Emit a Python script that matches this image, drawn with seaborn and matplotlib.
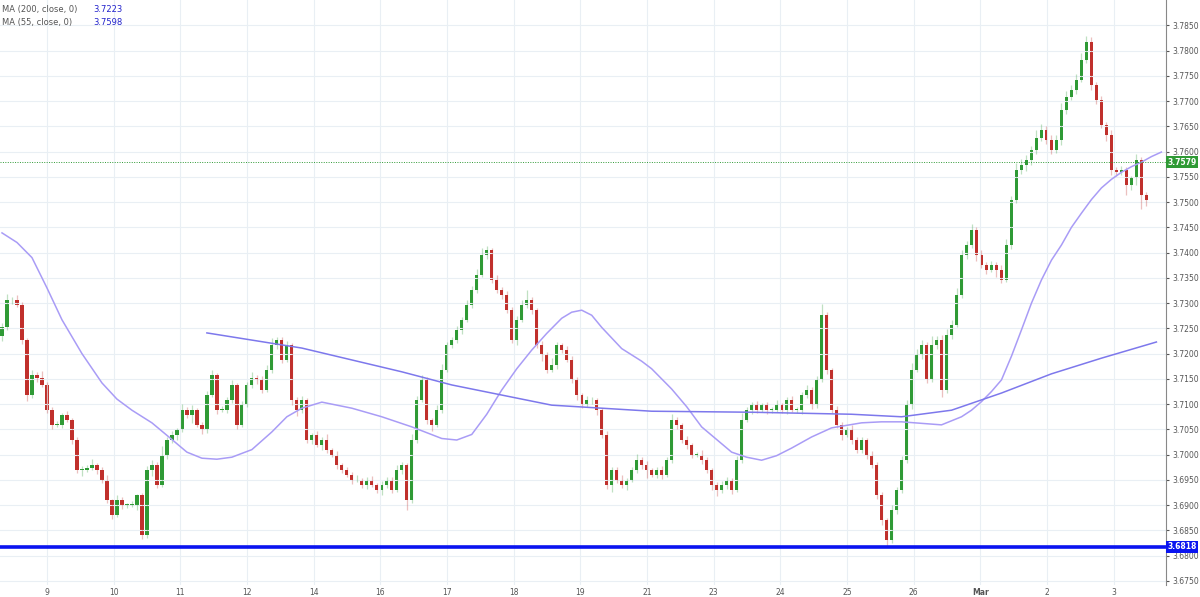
import numpy as np
import pandas as pd
import matplotlib
matplotlib.use("Agg")
import matplotlib.pyplot as plt
import seaborn as sns

# closing prices per bar
closes = [
    3.7253, 3.7306, 3.7306, 3.7297, 3.7227, 3.7118, 3.7158, 3.7152, 3.7138, 3.7089,
    3.7059, 3.7059, 3.7079, 3.7069, 3.7029, 3.6970, 3.6970, 3.6974, 3.6980, 3.6970,
    3.6950, 3.6910, 3.6881, 3.6910, 3.6901, 3.6901, 3.6901, 3.6920, 3.6841, 3.6970,
    3.6980, 3.6940, 3.7000, 3.7029, 3.7039, 3.7049, 3.7089, 3.7079, 3.7089, 3.7059,
    3.7049, 3.7118, 3.7158, 3.7089, 3.7089, 3.7108, 3.7138, 3.7059, 3.7099, 3.7138,
    3.7152, 3.7148, 3.7128, 3.7168, 3.7217, 3.7227, 3.7188, 3.7217, 3.7108, 3.7089,
    3.7108, 3.7029, 3.7039, 3.7019, 3.7029, 3.7009, 3.7000, 3.6980, 3.6970, 3.6960,
    3.6950, 3.6950, 3.6940, 3.6950, 3.6940, 3.6930, 3.6940, 3.6950, 3.6930, 3.6970,
    3.6980, 3.6910, 3.7029, 3.7108, 3.7148, 3.7069, 3.7059, 3.7089, 3.7168, 3.7217,
    3.7227, 3.7247, 3.7267, 3.7297, 3.7326, 3.7356, 3.7396, 3.7405, 3.7346, 3.7326,
    3.7316, 3.7287, 3.7227, 3.7267, 3.7297, 3.7306, 3.7287, 3.7217, 3.7198, 3.7168,
    3.7178, 3.7217, 3.7207, 3.7188, 3.7148, 3.7118, 3.7099, 3.7108, 3.7108, 3.7089,
    3.7039, 3.6940, 3.6970, 3.6950, 3.6940, 3.6950, 3.6970, 3.6990, 3.6980, 3.6970,
    3.6960, 3.6970, 3.6960, 3.6990, 3.7069, 3.7059, 3.7029, 3.7019, 3.7000, 3.7000,
    3.6990, 3.6970, 3.6940, 3.6930, 3.6940, 3.6950, 3.6930, 3.6990, 3.7069, 3.7089,
    3.7099, 3.7089, 3.7099, 3.7089, 3.7089, 3.7099, 3.7089, 3.7108, 3.7089, 3.7089,
    3.7118, 3.7128, 3.7099, 3.7148, 3.7277, 3.7168, 3.7089, 3.7059, 3.7039, 3.7049,
    3.7029, 3.7009, 3.7029, 3.7000, 3.6980, 3.6920, 3.6871, 3.6831, 3.6891, 3.6930,
    3.6990, 3.7099, 3.7168, 3.7198, 3.7217, 3.7148, 3.7217, 3.7227, 3.7128, 3.7237,
    3.7257, 3.7316, 3.7396, 3.7415, 3.7445, 3.7396, 3.7376, 3.7366, 3.7376, 3.7366,
    3.7346, 3.7415, 3.7504, 3.7564, 3.7574, 3.7584, 3.7603, 3.7627, 3.7643, 3.7623,
    3.7603, 3.7623, 3.7683, 3.7708, 3.7722, 3.7742, 3.7782, 3.7817, 3.7732, 3.7702,
    3.7653, 3.7633, 3.7564, 3.7560, 3.7564, 3.7534, 3.7548, 3.7584, 3.7514, 3.7504,
]
first_open = 3.7235

# wick lengths in pips above the body top / below the body bottom
wick_up = [
    8, 12, 6, 10, 5, 4, 9, 6, 14, 5,
    6, 8, 4, 7, 3, 6, 8, 5, 12, 4,
    5, 9, 3, 10, 6, 4, 8, 3, 5, 7,
    10, 6, 18, 5, 8, 4, 12, 6, 9, 4,
    5, 8, 10, 4, 7, 6, 9, 3, 8, 6,
    12, 5, 7, 9, 14, 6, 5, 8, 4, 6,
    9, 5, 4, 7, 6, 12, 5, 8, 4, 6,
    5, 9, 4, 6, 8, 3, 7, 5, 6, 9,
    6, 4, 12, 8, 10, 5, 4, 9, 12, 7,
    5, 8, 6, 10, 7, 12, 14, 8, 5, 9,
    6, 8, 5, 7, 9, 20, 6, 4, 8, 5,
    14, 6, 5, 8, 7, 5, 4, 9, 6, 5,
    4, 8, 6, 5, 9, 4, 6, 12, 5, 7,
    4, 6, 8, 5, 12, 6, 4, 8, 5, 6,
    9, 5, 4, 6, 8, 5, 4, 7, 14, 6,
    5, 8, 4, 6, 5, 9, 4, 6, 8, 5,
    6, 9, 5, 8, 22, 6, 4, 8, 5, 6,
    9, 5, 6, 4, 7, 5, 6, 4, 9, 6,
    8, 10, 14, 12, 9, 6, 18, 8, 10, 12,
    9, 14, 10, 8, 12, 6, 9, 5, 8, 6,
    10, 12, 8, 14, 12, 10, 8, 16, 12, 8,
    10, 9, 14, 12, 10, 12, 14, 12, 9, 6,
    8, 5, 9, 6, 8, 5, 4, 12, 6, 5,
]
wick_dn = [
    10, 6, 8, 5, 7, 12, 5, 8, 4, 6,
    9, 5, 7, 4, 8, 6, 12, 5, 4, 8,
    6, 5, 9, 4, 8, 6, 5, 10, 8, 5,
    12, 6, 4, 8, 5, 9, 4, 6, 16, 5,
    8, 6, 4, 9, 5, 7, 6, 8, 4, 5,
    6, 9, 5, 4, 7, 8, 6, 5, 9, 12,
    6, 5, 8, 4, 9, 6, 5, 8, 6, 4,
    9, 5, 6, 8, 4, 6, 9, 5, 6, 4,
    8, 20, 5, 6, 4, 8, 12, 5, 6, 4,
    6, 5, 8, 4, 6, 5, 4, 8, 6, 5,
    8, 6, 5, 9, 4, 6, 8, 5, 12, 6,
    5, 8, 6, 4, 7, 9, 6, 5, 8, 10,
    6, 8, 14, 6, 5, 9, 4, 6, 8, 16,
    5, 6, 8, 4, 6, 9, 5, 8, 6, 5,
    8, 6, 9, 12, 5, 7, 8, 4, 6, 5,
    9, 6, 5, 8, 6, 4, 7, 9, 5, 6,
    8, 5, 9, 6, 5, 8, 7, 6, 9, 5,
    8, 6, 5, 9, 6, 8, 10, 12, 6, 8,
    5, 6, 8, 5, 9, 6, 5, 8, 14, 6,
    8, 5, 6, 9, 5, 12, 6, 8, 5, 14,
    6, 5, 8, 6, 9, 12, 10, 8, 6, 9,
    8, 6, 10, 9, 6, 8, 5, 6, 10, 8,
    6, 12, 10, 8, 6, 20, 10, 14, 28, 12,
]

# moving averages sampled along the chart (bar index, price)
ma55_bar = [0, 3, 6, 9, 12, 16, 20, 23, 26, 30, 34, 37, 40, 43, 46, 50, 54, 57, 60, 64,
            70, 76, 82, 88, 91, 94, 97, 100, 103, 106, 109, 112, 114, 116, 118, 120, 124,
            128, 130, 132, 134, 137, 140, 143, 146, 149, 152, 155, 158, 162, 166, 172, 176,
            180, 184, 188, 192, 194, 196, 198, 200, 202, 204, 206, 208, 210, 212, 214, 216,
            218, 220, 222, 224, 226, 228, 230, 232]
ma55_val = [3.7439, 3.7420, 3.7390, 3.7330, 3.7267, 3.7200, 3.7142, 3.7110, 3.7088, 3.7063,
            3.7030, 3.7005, 3.6993, 3.6991, 3.6995, 3.7010, 3.7045, 3.7075, 3.7092, 3.7104,
            3.7092, 3.7075, 3.7055, 3.7032, 3.7029, 3.7040, 3.7080, 3.7128, 3.7170, 3.7207,
            3.7240, 3.7270, 3.7282, 3.7286, 3.7276, 3.7252, 3.7210, 3.7185, 3.7170, 3.7150,
            3.7130, 3.7095, 3.7055, 3.7030, 3.7005, 3.6995, 3.6989, 3.6998, 3.7013, 3.7035,
            3.7053, 3.7063, 3.7065, 3.7065, 3.7062, 3.7059, 3.7075, 3.7088, 3.7105, 3.7125,
            3.7148, 3.7195, 3.7247, 3.7300, 3.7346, 3.7385, 3.7415, 3.7450, 3.7478, 3.7505,
            3.7528, 3.7545, 3.7559, 3.7570, 3.7579, 3.7590, 3.7599]
ma200_bar = [41, 60, 80, 90, 110, 130, 150, 170, 180, 190, 200, 210, 220, 231]
ma200_val = [3.7241, 3.7211, 3.7164, 3.7138, 3.7098, 3.7086, 3.7084, 3.7080, 3.7075, 3.7088,
             3.7122, 3.7160, 3.7191, 3.7223]

day_labels = ["9", "10", "11", "12", "14", "16", "17", "18", "19", "21", "23", "24", "25", "26",
              "Mar", "2", "3"]
support_level = 3.6818
last_price = 3.7579

opens = [first_open] + closes[:-1]
df = pd.DataFrame({"open": opens, "close": closes})
df["bar"] = np.arange(len(df))
df["top"] = df[["open", "close"]].max(axis=1)
df["bot"] = df[["open", "close"]].min(axis=1)
df["high"] = df["top"] + np.array(wick_up) * 1e-4
df["low"] = df["bot"] - np.array(wick_dn) * 1e-4
up = df["close"] >= df["open"]

green, red = "#2f9a35", "#c0302c"
fig = plt.figure(figsize=(12, 5.97), dpi=100)
ax = fig.add_axes([0.0, 0.0201, 0.972, 0.9799])
ax.set_facecolor("white")

# wicks (faint) then bodies
ax.vlines(df["bar"][up], df["low"][up], df["high"][up], color=green, alpha=0.3, lw=0.9)
ax.vlines(df["bar"][~up], df["low"][~up], df["high"][~up], color=red, alpha=0.3, lw=0.9)
hgt = (df["top"] - df["bot"]).clip(lower=0.00008)
ax.bar(df["bar"][up], hgt[up], bottom=df["bot"][up], width=0.65, color=green, linewidth=0)
ax.bar(df["bar"][~up], hgt[~up], bottom=df["bot"][~up], width=0.65, color=red, linewidth=0)

sns.lineplot(x=ma55_bar, y=ma55_val, ax=ax, color="#a99cf6", lw=1.1)
sns.lineplot(x=ma200_bar, y=ma200_val, ax=ax, color="#7d78ec", lw=1.1)

ax.axhline(support_level, color="#0a14f0", lw=2.6)
ax.axhline(last_price, color="#2f9a35", lw=0.7, ls=(0, (1, 1.5)))

ax.set_xlim(-0.4, 233.0)
ax.set_ylim(3.6742, 3.7900)
xt = [(47 + 66.7 * k - 2) / 5 for k in range(len(day_labels))]
ax.set_xticks(xt)
ax.set_xticklabels(day_labels)
for t in ax.get_xticklabels():
    if t.get_text() == "Mar":
        t.set_fontweight("bold")
yt = np.arange(3.6750, 3.7851, 0.0050)
ax.set_yticks(yt)
ax.set_yticklabels([f"{v:.4f}" for v in yt])
ax.yaxis.tick_right()
ax.tick_params(axis="both", labelsize=5.5, colors="#555555", length=2, pad=2)
ax.tick_params(axis="x", length=0)
ax.grid(True, color="#e9eff4", lw=0.8)
for s in ["top", "left", "bottom"]:
    ax.spines[s].set_visible(False)
ax.spines["right"].set_color("#888888")

# price labels on the axis
ax.text(1.001, support_level, f"{support_level:.4f}", transform=ax.get_yaxis_transform(),
        va="center", ha="left", fontsize=5.5, color="white", fontweight="bold",
        bbox=dict(boxstyle="square,pad=0.2", fc="#0a14f0", ec="none"))
ax.text(1.001, last_price, f"{last_price:.4f}", transform=ax.get_yaxis_transform(),
        va="center", ha="left", fontsize=5.5, color="white", fontweight="bold",
        bbox=dict(boxstyle="square,pad=0.2", fc="#2f9a35", ec="none"))

# legend text top-left
fig.text(0.002, 0.984, "MA (200, close, 0)", fontsize=6, color="#555555", va="center")
fig.text(0.078, 0.984, "3.7223", fontsize=6, color="#2222cc", va="center")
fig.text(0.002, 0.963, "MA (55, close, 0)", fontsize=6, color="#555555", va="center")
fig.text(0.078, 0.963, "3.7598", fontsize=6, color="#2222cc", va="center")

fig.savefig("out.png", dpi=100, facecolor="white")
